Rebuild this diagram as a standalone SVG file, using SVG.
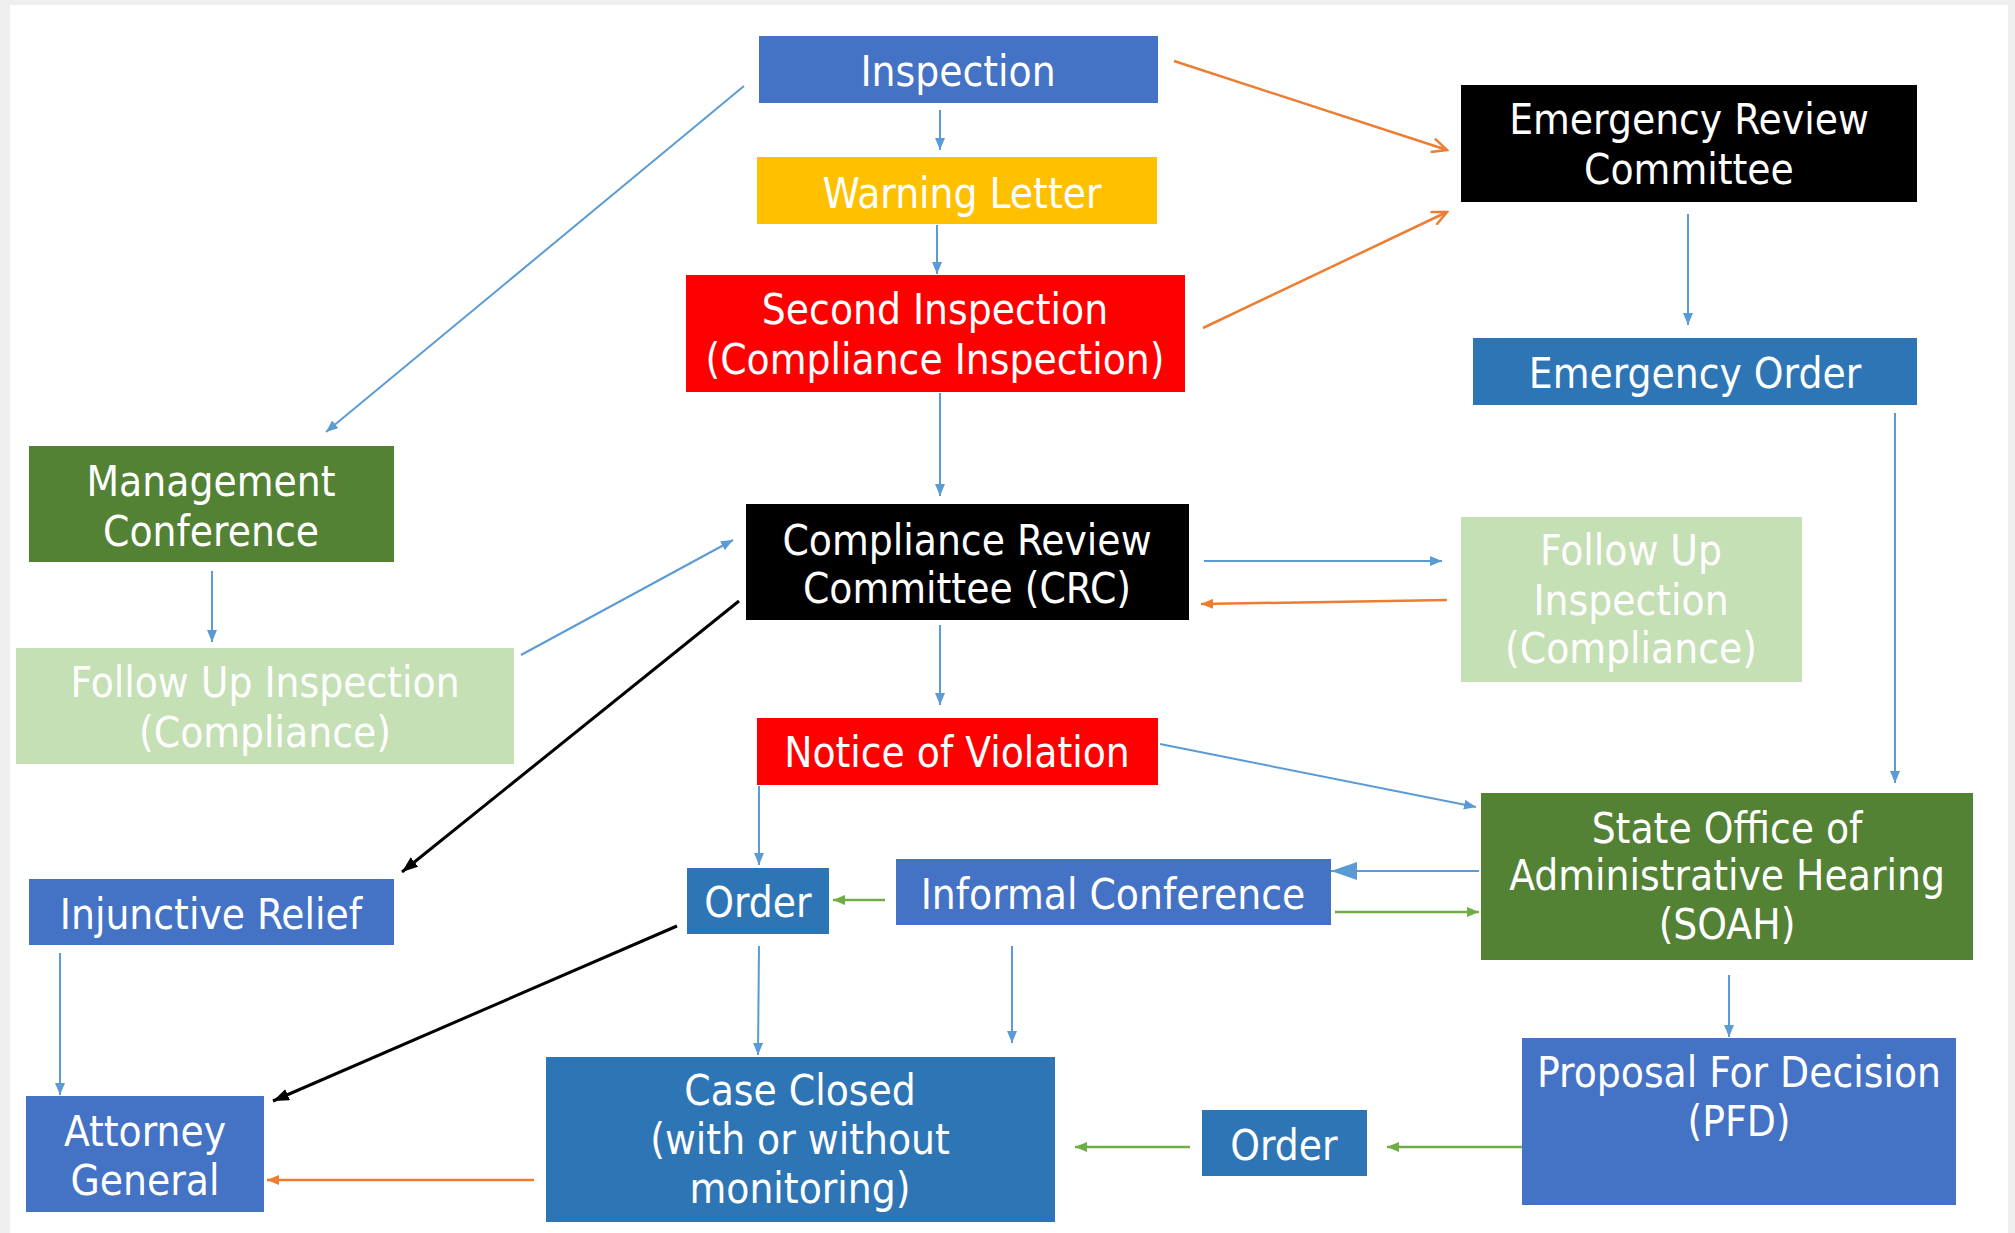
<svg xmlns="http://www.w3.org/2000/svg" width="2015" height="1233" viewBox="0 0 2015 1233">
<style>
.t{font-family:'DejaVu Sans Condensed','DejaVu Sans',sans-serif;font-stretch:condensed;font-size:42px;fill:#ffffff;text-anchor:middle}
.b{stroke:#5B9BD5;stroke-width:2;fill:none}
.o{stroke:#ED7D31;stroke-width:2.5;fill:none}
.g{stroke:#70AD47;stroke-width:2.5;fill:none}
.k{stroke:#000000;stroke-width:3;fill:none}
</style>
<defs>
<marker id="mb" markerUnits="userSpaceOnUse" markerWidth="12" markerHeight="10" refX="12" refY="5" orient="auto"><path d="M0,0 L12,5 L0,10 z" fill="#5B9BD5"/></marker>
<marker id="mbb" markerUnits="userSpaceOnUse" markerWidth="26" markerHeight="18" refX="26" refY="9" orient="auto"><path d="M0,0 L26,9 L0,18 z" fill="#5B9BD5"/></marker>
<marker id="mg" markerUnits="userSpaceOnUse" markerWidth="12" markerHeight="10" refX="12" refY="5" orient="auto"><path d="M0,0 L12,5 L0,10 z" fill="#70AD47"/></marker>
<marker id="mk" markerUnits="userSpaceOnUse" markerWidth="16" markerHeight="12" refX="16" refY="6" orient="auto"><path d="M0,0 L16,6 L0,12 z" fill="#000000"/></marker>
<marker id="mo" markerUnits="userSpaceOnUse" markerWidth="12" markerHeight="10" refX="12" refY="5" orient="auto"><path d="M0,0 L12,5 L0,10 z" fill="#ED7D31"/></marker>
<marker id="moo" markerUnits="userSpaceOnUse" markerWidth="18" markerHeight="16" refX="16" refY="8" orient="auto"><path d="M1,1 L16,8 L1,15" fill="none" stroke="#ED7D31" stroke-width="2.5"/></marker>
</defs>
<rect x="0" y="0" width="2015" height="1233" fill="#efefef"/>
<rect x="10" y="5" width="1998" height="1228" fill="#ffffff"/>

<g id="connectors">
<path class="b" d="M940,110 L940,150" marker-end="url(#mb)"/>
<path class="b" d="M937,225 L937,274" marker-end="url(#mb)"/>
<path class="b" d="M744,86 L326,432" marker-end="url(#mb)"/>
<path class="b" d="M940,393 L940,496" marker-end="url(#mb)"/>
<path class="b" d="M212,571 L212,642" marker-end="url(#mb)"/>
<path class="b" d="M521,655 L733,540" marker-end="url(#mb)"/>
<path class="k" d="M739,601 L402,872" marker-end="url(#mk)"/>
<path class="b" d="M1204,561 L1442,561" marker-end="url(#mb)"/>
<path class="o" d="M1447,600 L1201,604" marker-end="url(#mo)"/>
<path class="o" d="M1174,61 L1447,150" marker-end="url(#moo)"/>
<path class="o" d="M1203,328 L1447,212" marker-end="url(#moo)"/>
<path class="b" d="M1688,214 L1688,325" marker-end="url(#mb)"/>
<path class="b" d="M1895,413 L1895,783" marker-end="url(#mb)"/>
<path class="b" d="M940,625 L940,705" marker-end="url(#mb)"/>
<path class="b" d="M1160,744 L1476,807" marker-end="url(#mb)"/>
<path class="b" d="M759,786 L759,865" marker-end="url(#mb)"/>
<path class="g" d="M885,900 L833,900" marker-end="url(#mg)"/>
<path class="b" d="M1479,871 L1331,871" marker-end="url(#mbb)"/>
<path class="g" d="M1335,912 L1479,912" marker-end="url(#mg)"/>
<path class="b" d="M759,946 L758,1055" marker-end="url(#mb)"/>
<path class="b" d="M1012,946 L1012,1043" marker-end="url(#mb)"/>
<path class="k" d="M677,926 L273,1101" marker-end="url(#mk)"/>
<path class="b" d="M60,953 L60,1095" marker-end="url(#mb)"/>
<path class="o" d="M534,1180 L267,1180" marker-end="url(#mo)"/>
<path class="b" d="M1729,975 L1729,1037" marker-end="url(#mb)"/>
<path class="g" d="M1522,1147 L1387,1147" marker-end="url(#mg)"/>
<path class="g" d="M1190,1147 L1075,1147" marker-end="url(#mg)"/>
</g>

<g id="inspection"><rect x="759" y="36" width="399" height="67" fill="#4472C4"/><text class="t" x="958" y="86">Inspection</text></g>
<g id="warning-letter"><rect x="757" y="157" width="400" height="67" fill="#FFC000"/><text class="t" x="962" y="208">Warning Letter</text></g>
<g id="second-inspection"><rect x="686" y="275" width="499" height="117" fill="#FF0000"/><text class="t" x="935" y="324">Second Inspection</text><text class="t" x="935" y="374">(Compliance Inspection)</text></g>
<g id="erc"><rect x="1461" y="85" width="456" height="117" fill="#000000"/><text class="t" x="1689" y="134">Emergency Review</text><text class="t" x="1689" y="184">Committee</text></g>
<g id="emergency-order"><rect x="1473" y="338" width="444" height="67" fill="#2E75B6"/><text class="t" x="1695" y="388">Emergency Order</text></g>
<g id="management-conference"><rect x="29" y="446" width="365" height="116" fill="#548235"/><text class="t" x="211" y="496">Management</text><text class="t" x="211" y="546">Conference</text></g>
<g id="crc"><rect x="746" y="504" width="443" height="116" fill="#000000"/><text class="t" x="967" y="555">Compliance Review</text><text class="t" x="967" y="603">Committee (CRC)</text></g>
<g id="follow-up-right"><rect x="1461" y="517" width="341" height="165" fill="#C5E0B4"/><text class="t" x="1631" y="565">Follow Up</text><text class="t" x="1631" y="615">Inspection</text><text class="t" x="1631" y="663">(Compliance)</text></g>
<g id="follow-up-left"><rect x="16" y="648" width="498" height="116" fill="#C5E0B4"/><text class="t" x="265" y="697">Follow Up Inspection</text><text class="t" x="265" y="747">(Compliance)</text></g>
<g id="notice-of-violation"><rect x="757" y="718" width="401" height="67" fill="#FF0000"/><text class="t" x="957" y="767">Notice of Violation</text></g>
<g id="soah"><rect x="1481" y="793" width="492" height="167" fill="#548235"/><text class="t" x="1727" y="843">State Office of</text><text class="t" x="1727" y="890">Administrative Hearing</text><text class="t" x="1727" y="939">(SOAH)</text></g>
<g id="injunctive-relief"><rect x="29" y="879" width="365" height="66" fill="#4472C4"/><text class="t" x="211" y="929">Injunctive Relief</text></g>
<g id="order-1"><rect x="687" y="868" width="142" height="66" fill="#2E75B6"/><text class="t" x="758" y="917">Order</text></g>
<g id="informal-conference"><rect x="896" y="859" width="435" height="66" fill="#4472C4"/><text class="t" x="1113" y="909">Informal Conference</text></g>
<g id="attorney-general"><rect x="26" y="1096" width="238" height="116" fill="#4472C4"/><text class="t" x="145" y="1146">Attorney</text><text class="t" x="145" y="1195">General</text></g>
<g id="case-closed"><rect x="546" y="1057" width="509" height="165" fill="#2E75B6"/><text class="t" x="800" y="1105">Case Closed</text><text class="t" x="800" y="1154">(with or without</text><text class="t" x="800" y="1203">monitoring)</text></g>
<g id="pfd"><rect x="1522" y="1038" width="434" height="167" fill="#4472C4"/><text class="t" x="1739" y="1087">Proposal For Decision</text><text class="t" x="1739" y="1136">(PFD)</text></g>
<g id="order-2"><rect x="1202" y="1110" width="165" height="66" fill="#2E75B6"/><text class="t" x="1284" y="1160">Order</text></g>
</svg>
